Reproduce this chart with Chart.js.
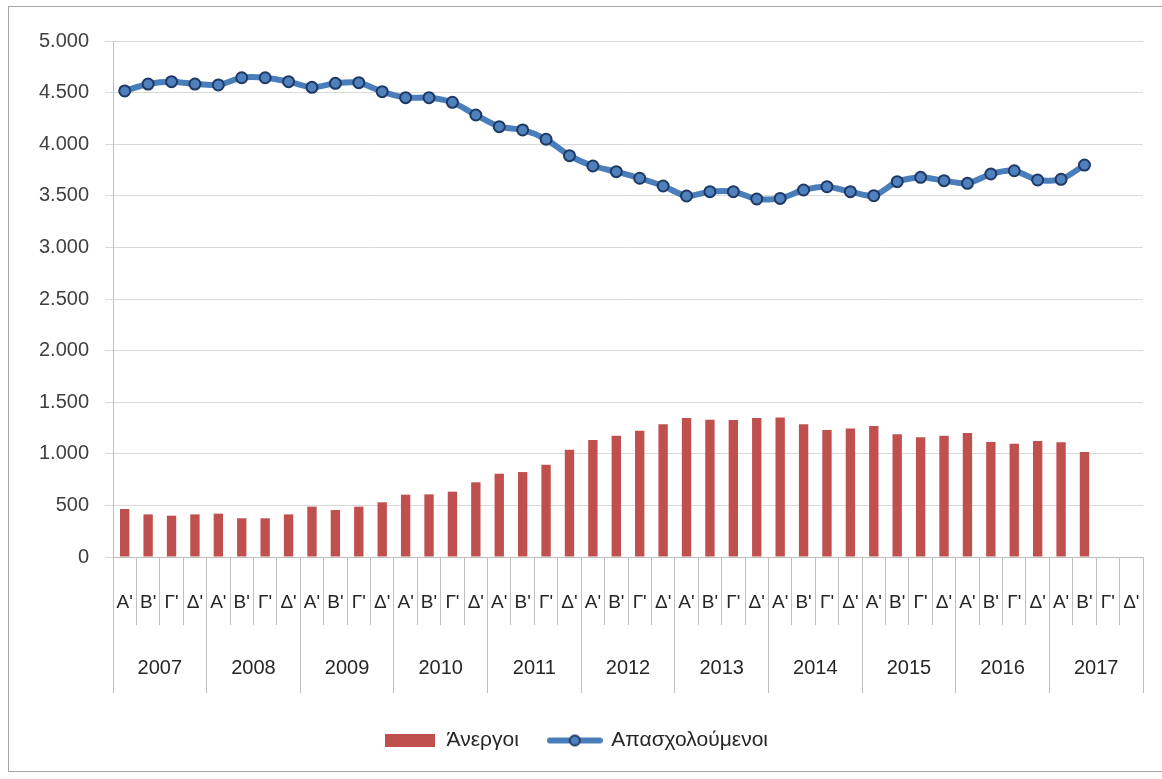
<!DOCTYPE html>
<html>
<head>
<meta charset="utf-8">
<script src="https://cdn.jsdelivr.net/npm/chart.js@4.4.1/dist/chart.umd.min.js"></script>
<style>
  html, body { margin: 0; padding: 0; background: #fff; overflow: hidden; width: 1162px; height: 779px; }
  #frame { position: absolute; left: 8px; top: 6px; width: 1170px; height: 764px; border: 1px solid #a6a6a6; }
  #wrap { position: absolute; left: 9px; top: 7px; width: 1160px; height: 760px; }
</style>
</head>
<body>
<div id="frame"></div>
<div id="wrap"><canvas id="chart"></canvas></div>
<script>
// categories
const years = ['2007', '2008', '2009', '2010', '2011', '2012', '2013', '2014', '2015', '2016', '2017'];
const quarters = ["Α'", "Β'", "Γ'", "Δ'"];

// series (thousands)
const unemployed = [465, 413, 400, 413, 420, 375, 375, 413, 488, 455,
  488, 530, 604, 607, 633, 724, 807, 823, 894, 1040,
  1134, 1176, 1224, 1286, 1346, 1330, 1327, 1346, 1352, 1286,
  1230, 1244, 1270, 1189, 1160, 1176, 1202, 1114, 1098, 1124,
  1111, 1018];
const employed = [4516, 4583, 4606, 4583, 4574, 4644, 4644, 4606, 4551, 4590,
  4596, 4509, 4451, 4451, 4406, 4283, 4170, 4138, 4048, 3889,
  3789, 3734, 3670, 3595, 3498, 3540, 3540, 3469, 3475, 3556,
  3588, 3540, 3501, 3637, 3679, 3647, 3621, 3711, 3743, 3653,
  3660, 3798];

const labels = [];
years.forEach(() => quarters.forEach(q => labels.push(q)));

const RED = '#c0504d';
const BLUE = '#4a7ebb';

// format 4500 -> 4.500
function fmt(v) {
  if (v >= 1000) return Math.floor(v / 1000) + '.' + String(v % 1000).padStart(3, '0');
  return String(v);
}

// legend icons
function makeBarIcon() {
  const c = document.createElement('canvas');
  c.width = 50; c.height = 13;
  const ctx = c.getContext('2d');
  ctx.fillStyle = RED;
  ctx.fillRect(0, 0, 50, 13);
  return c;
}
function makeLineIcon() {
  const c = document.createElement('canvas');
  c.width = 56; c.height = 14;
  const ctx = c.getContext('2d');
  ctx.strokeStyle = BLUE;
  ctx.lineWidth = 6;
  ctx.lineCap = 'round';
  ctx.beginPath(); ctx.moveTo(3, 7); ctx.lineTo(53, 7); ctx.stroke();
  ctx.beginPath(); ctx.arc(28, 7, 5, 0, Math.PI * 2);
  ctx.fillStyle = '#4f81bd'; ctx.fill();
  ctx.lineWidth = 2; ctx.strokeStyle = '#1f3864'; ctx.stroke();
  return c;
}
const icons = [makeBarIcon(), makeLineIcon()];

Chart.defaults.font.family = "'Liberation Sans', Arial, sans-serif";
Chart.defaults.color = '#404040';

new Chart(document.getElementById('chart'), {
  type: 'bar',
  data: {
    labels: labels,
    datasets: [
      {
        type: 'bar',
        label: 'Άνεργοι',
        data: unemployed,
        backgroundColor: RED,
        barPercentage: 0.4,
        categoryPercentage: 1,
        order: 1
      },
      {
        type: 'line',
        label: 'Απασχολούμενοι',
        data: employed,
        borderColor: BLUE,
        borderWidth: 6,
        pointRadius: 5.5,
        pointBackgroundColor: '#4f81bd',
        pointBorderColor: '#1f3864',
        pointBorderWidth: 2,
        tension: 0.25,
        order: 0
      }
    ]
  },
  options: {
    responsive: true,
    maintainAspectRatio: false,
    animation: false,
    layout: { padding: { top: 34, right: 26, left: 0, bottom: 6 } },
    plugins: {
      tooltip: { enabled: false },
      legend: {
        position: 'bottom',
        labels: {
          usePointStyle: true,
          pointStyleWidth: 52,
          boxHeight: 14,
          padding: 30,
          color: '#262626',
          font: { size: 21 },
          sort: (a, b) => a.datasetIndex - b.datasetIndex,
          generateLabels(chart) {
            const items = Chart.defaults.plugins.legend.labels.generateLabels(chart);
            items.forEach(it => { it.pointStyle = icons[it.datasetIndex]; });
            return items;
          }
        }
      }
    },
    scales: {
      x: {
        type: 'category',
        weight: 0,
        offset: true,
        grid: { display: true, drawOnChartArea: false, offset: true, tickLength: 68, color: '#bfbfbf' },
        border: { display: true, color: '#bfbfbf' },
        ticks: {
          autoSkip: false, maxRotation: 0, minRotation: 0, padding: -34,
          color: '#262626',
          font: { family: "'Liberation Sans Narrow', 'Liberation Sans', sans-serif", size: 19 }
        },
        afterFit(s) { s.height = 68; }
      },
      x2: {
        type: 'category',
        labels: years,
        position: 'bottom',
        weight: 1,
        offset: true,
        grid: { display: true, drawOnChartArea: false, offset: true, tickLength: 68, color: '#bfbfbf' },
        border: { display: false },
        ticks: {
          autoSkip: false, maxRotation: 0, minRotation: 0, padding: -37,
          color: '#262626',
          font: { size: 20 }
        },
        afterFit(s) { s.height = 75; }
      },
      y: {
        min: 0,
        max: 5000,
        ticks: { stepSize: 500, padding: 16, callback: v => fmt(v), font: { size: 20 }, color: '#404040' },
        grid: { color: '#d9d9d9', tickLength: 8 },
        border: { display: true, color: '#bfbfbf' },
        afterFit(s) { s.width = 104; }
      }
    }
  }
});
</script>
</body>
</html>
